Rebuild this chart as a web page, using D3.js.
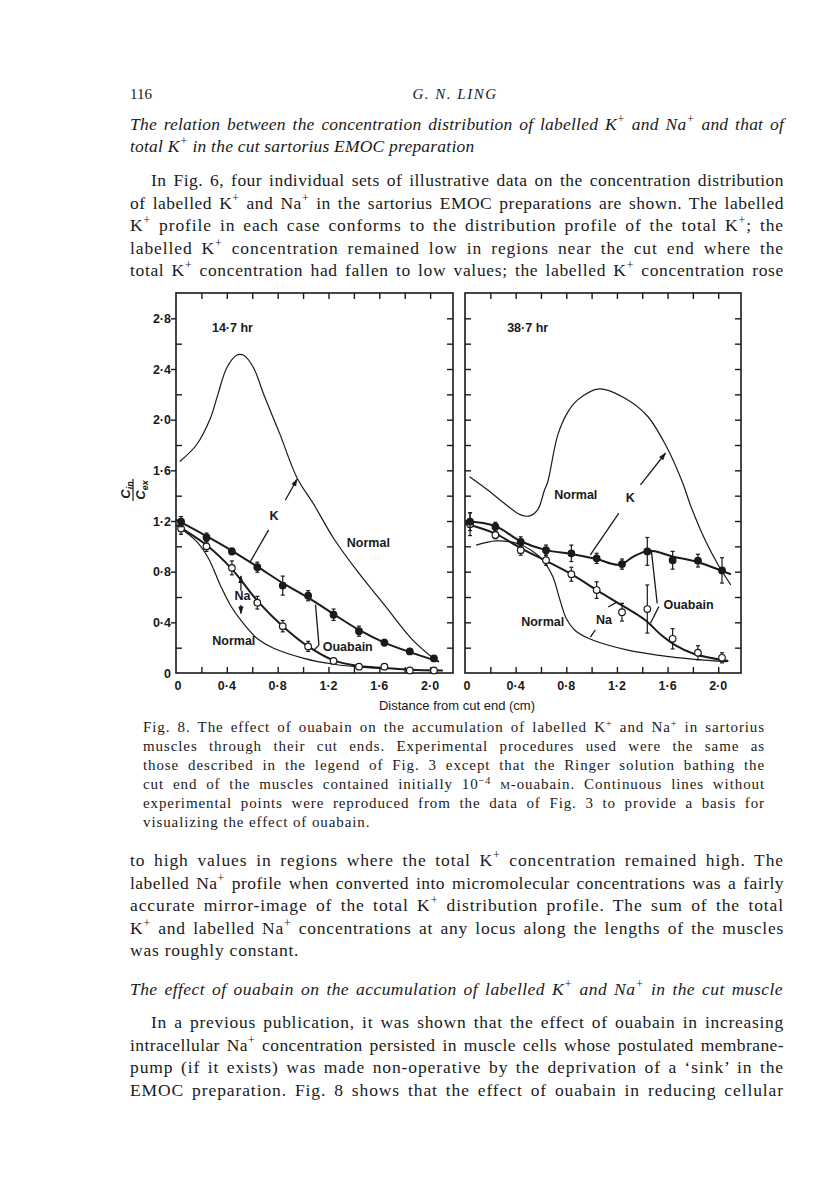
<!DOCTYPE html>
<html>
<head>
<meta charset="utf-8">
<script src="https://cdn.jsdelivr.net/npm/d3@7"></script>
<style>
  body { margin: 0; background: #fff; }
  svg { display: block; }
</style>
</head>
<body>
<svg id="page"></svg>
<script>
// ---- values (C_in / C_ex against distance from cut end, cm) ----
const sliceX = [0.04, 0.24, 0.44, 0.64, 0.84, 1.04, 1.24, 1.44, 1.64, 1.84, 2.03];

// 14.7 hr, ouabain: labelled K (filled) and Na (open)
const kOuabain14 = [1.195, 1.07, 0.96, 0.835, 0.69, 0.61, 0.46, 0.33, 0.24, 0.17, 0.115];
const kOuabain14Err = [0.04, 0.035, 0.025, 0.04, 0.075, 0.04, 0.045, 0.04, 0.025, 0.02, 0.02];
const naOuabain14 = [1.14, 1.0, 0.83, 0.555, 0.37, 0.21, 0.095, 0.05, 0.05, 0.02, 0.02];
const naOuabain14Err = [0.045, 0.04, 0.055, 0.05, 0.045, 0.04, 0.02, 0.01, 0.015, 0, 0];

// 38.7 hr, ouabain
const kOuabain38 = [1.195, 1.155, 1.035, 0.97, 0.945, 0.905, 0.86, 0.96, 0.89, 0.887, 0.81];
const kOuabain38Err = [0.07, 0.035, 0.04, 0.04, 0.065, 0.04, 0.04, 0.11, 0.07, 0.05, 0.1];
const naOuabain38 = [1.175, 1.09, 0.97, 0.89, 0.78, 0.655, 0.48, 0.505, 0.27, 0.16, 0.12];
const naOuabain38Err = [0.09, 0.03, 0.04, 0.04, 0.055, 0.065, 0.07, 0.19, 0.08, 0.055, 0.04];

// drawn curves [distance, C_in/C_ex]
const kFit14 = [[0, 1.21], [0.24, 1.08], [0.44, 0.965], [0.64, 0.84], [0.84, 0.71], [1.04, 0.595],
  [1.24, 0.465], [1.44, 0.34], [1.64, 0.24], [1.84, 0.165], [2.07, 0.09]];
const naFit14 = [[0, 1.17], [0.24, 1.01], [0.44, 0.82], [0.64, 0.57], [0.84, 0.37], [1.04, 0.21],
  [1.24, 0.1], [1.44, 0.055], [1.64, 0.04], [1.84, 0.025], [2.1, 0.02]];
const normalK14 = [[0.03, 1.67], [0.16, 1.8], [0.27, 2.01], [0.33, 2.2], [0.4, 2.41], [0.48, 2.51],
  [0.53, 2.51], [0.61, 2.41], [0.69, 2.2], [0.82, 1.88], [0.953, 1.54], [1.085, 1.33], [1.24, 1.064],
  [1.43, 0.8], [1.64, 0.537], [1.85, 0.274], [2.02, 0.12]];
const normalNa14 = [[0.026, 1.148], [0.163, 1.037], [0.255, 0.906], [0.348, 0.695], [0.427, 0.537],
  [0.519, 0.405], [0.637, 0.274], [0.769, 0.195], [1.006, 0.116], [1.243, 0.069], [1.506, 0.042], [1.65, 0.035]];

const kFit38 = [[0, 1.2], [0.24, 1.16], [0.44, 1.04], [0.64, 0.97], [0.84, 0.94], [1.04, 0.9], [1.22, 0.855],
  [1.34, 0.925], [1.46, 0.965], [1.64, 0.92], [1.84, 0.875], [2.02, 0.81], [2.1, 0.78]];
const naFit38 = [[0, 1.18], [0.24, 1.1], [0.44, 0.985], [0.64, 0.885], [0.84, 0.78], [1.04, 0.655],
  [1.23, 0.54], [1.42, 0.42], [1.55, 0.3], [1.66, 0.22], [1.81, 0.15], [2.08, 0.095]];
const normalK38 = [[0.036, 1.55], [0.18, 1.445], [0.31, 1.34], [0.44, 1.248], [0.51, 1.24], [0.575, 1.29],
  [0.628, 1.445], [0.654, 1.51], [0.733, 1.88], [0.812, 2.06], [0.89, 2.156], [1.062, 2.243], [1.286, 2.156],
  [1.444, 2.025], [1.59, 1.79], [1.716, 1.51], [1.78, 1.327], [1.89, 1.064], [2.0, 0.853], [2.1, 0.695]];
const normalNa38 = [[0.088, 1.01], [0.246, 1.043], [0.404, 1.025], [0.523, 0.97], [0.615, 0.89], [0.694, 0.76],
  [0.746, 0.59], [0.8, 0.43], [0.865, 0.34], [0.983, 0.27], [1.286, 0.18], [1.55, 0.137], [1.813, 0.108], [2.07, 0.09]];

// tick values
const xTickValues = [0.2, 0.4, 0.6, 0.8, 1.0, 1.2, 1.4, 1.6, 1.8, 2.0];
const xLabelValues = [0, 0.4, 0.8, 1.2, 1.6, 2.0];
const yMajor = [0, 0.4, 0.8, 1.2, 1.6, 2.0, 2.4, 2.8];
const yMinor = [0.2, 0.6, 1.0, 1.4, 1.8, 2.2, 2.6];
const yAll = [0.2, 0.4, 0.6, 0.8, 1.0, 1.2, 1.4, 1.6, 1.8, 2.0, 2.2, 2.4, 2.6, 2.8];

// annotations: [text, x, y, anchor] and pointer lines [x1, y1, x2, y2, arrow]
const labels14 = [["14·7 hr", 0.283, 2.725, "start"], ["K", 0.772, 1.24, "middle"], ["Normal", 1.514, 1.03, "middle"],
  ["Na", 0.524, 0.614, "middle"], ["Normal", 0.455, 0.253, "middle"], ["Ouabain", 1.155, 0.208, "start"]];
const pointers14 = [[0.585, 0.879, 0.729, 1.13, 0], [0.861, 1.366, 0.953, 1.53, 1], [0.511, 0.65, 0.511, 0.765, 1],
  [0.511, 0.537, 0.511, 0.47, 1], [1.098, 0.54, 1.125, 0.22, 0], [1.085, 0.18, 1.125, 0.22, 0]];
const labels38 = [["38·7 hr", 0.333, 2.725, "start"], ["Normal", 0.875, 1.406, "middle"], ["K", 1.306, 1.382, "middle"],
  ["Ouabain", 1.568, 0.537, "start"], ["Normal", 0.614, 0.41, "middle"], ["Na", 1.097, 0.42, "middle"]];
const pointers38 = [[1.386, 1.485, 1.583, 1.735, 1], [0.99, 0.932, 1.214, 1.261, 0], [1.473, 0.958, 1.518, 0.55, 0],
  [1.465, 0.393, 1.531, 0.524, 0], [1.131, 0.521, 1.203, 0.561, 0], [0.99, 0.284, 1.03, 0.34, 0]];

// page text ({..} superscript, [..] small capitals)
const headingLines = [
  "The relation between the concentration distribution of labelled K{+} and Na{+} and that of",
  "total K{+} in the cut sartorius EMOC preparation"];
const introLines = [
  "In Fig. 6, four individual sets of illustrative data on the concentration distribution",
  "of labelled K{+} and Na{+} in the sartorius EMOC preparations are shown. The labelled",
  "K{+} profile in each case conforms to the distribution profile of the total K{+}; the",
  "labelled K{+} concentration remained low in regions near the cut end where the",
  "total K{+} concentration had fallen to low values; the labelled K{+} concentration rose"];
const captionLines = [
  "Fig. 8. The effect of ouabain on the accumulation of labelled K{+} and Na{+} in sartorius",
  "muscles through their cut ends. Experimental procedures used were the same as",
  "those described in the legend of Fig. 3 except that the Ringer solution bathing the",
  "cut end of the muscles contained initially 10{−4} [m]-ouabain. Continuous lines without",
  "experimental points were reproduced from the data of Fig. 3 to provide a basis for",
  "visualizing the effect of ouabain."];
const afterLines = [
  "to high values in regions where the total K{+} concentration remained high. The",
  "labelled Na{+} profile when converted into micromolecular concentrations was a fairly",
  "accurate mirror-image of the total K{+} distribution profile. The sum of the total",
  "K{+} and labelled Na{+} concentrations at any locus along the lengths of the muscles",
  "was roughly constant."];
const heading2 = "The effect of ouabain on the accumulation of labelled K{+} and Na{+} in the cut muscle";
const para2Lines = [
  "In a previous publication, it was shown that the effect of ouabain in increasing",
  "intracellular Na{+} concentration persisted in muscle cells whose postulated membrane-",
  "pump (if it exists) was made non-operative by the deprivation of a ‘sink’ in the",
  "EMOC preparation. Fig. 8 shows that the effect of ouabain in reducing cellular"];

const serif = "'Liberation Serif', 'Times New Roman', serif";
const sans = "'Liberation Sans', Arial, sans-serif";
const ink = "#1a1a1a";

const svg = d3.select("#page").attr("width", 816).attr("height", 1183);

// arrowhead
svg.append("defs").append("marker")
  .attr("id", "arrow")
  .attr("viewBox", "0 -4 9 8")
  .attr("refX", 8).attr("refY", 0)
  .attr("markerUnits", "userSpaceOnUse")
  .attr("markerWidth", 8).attr("markerHeight", 7)
  .attr("orient", "auto")
  .append("path").attr("d", "M0,-3L9,0L0,3Z").attr("fill", ink);

// ---------- page text ----------
let lastSpacing = 0;
function textLine(s, x, y, opt) {
  const t = svg.append("text")
    .attr("x", x).attr("y", y)
    .attr("font-family", serif)
    .attr("font-size", opt.size)
    .attr("font-style", opt.italic ? "italic" : null)
    .attr("fill", ink)
    .attr("text-anchor", opt.anchor || null);
  s.split(/(\{[^}]*\}|\[[^\]]*\])/).forEach((p) => {
    if (!p) return;
    if (p[0] === "{") {
      t.append("tspan").attr("baseline-shift", "super").attr("font-size", "68%").text(p.slice(1, -1));
    } else if (p[0] === "[") {
      t.append("tspan").style("font-variant", "small-caps").text(p.slice(1, -1));
    } else {
      t.append("tspan").text(p);
    }
  });
  if (opt.width) {
    // widen glyph spacing a little (the original face is wider), then justify with word gaps
    const spaces = (s.match(/ /g) || []).length;
    const len = t.node().getComputedTextLength();
    const chars = t.node().getNumberOfChars();
    const ls = Math.max(0, Math.min(0.9, (opt.width - len - spaces * 2.2) / chars));
    lastSpacing = ls;
    t.attr("letter-spacing", ls);
    if (spaces) t.attr("word-spacing", (opt.width - len - ls * chars) / spaces);
  } else if (opt.follow) {
    t.attr("letter-spacing", lastSpacing);
  }
  return t;
}

textLine("116", 130, 99, { size: 15 });
textLine("G. N. LING", 455, 99, { size: 15, italic: true, anchor: "middle" }).attr("letter-spacing", 1.5);

textLine(headingLines[0], 130, 130, { size: 17.5, italic: true, width: 654 });
textLine(headingLines[1], 130, 152, { size: 17.5, italic: true, follow: true });

introLines.forEach((l, i) => {
  const x = i === 0 ? 151 : 130;
  textLine(l, x, 186 + i * 22.6, { size: 17.5, width: 784 - x });
});

captionLines.forEach((l, i) => {
  const last = i === captionLines.length - 1;
  textLine(l, 143, 731.5 + i * 19, { size: 15, width: last ? null : 622, follow: last });
});

afterLines.forEach((l, i) => {
  const last = i === afterLines.length - 1;
  textLine(l, 130, 866 + i * 22.6, { size: 17.5, width: last ? null : 654, follow: last });
});

textLine(heading2, 130, 995, { size: 17.5, italic: true, width: 653 });

para2Lines.forEach((l, i) => {
  const x = i === 0 ? 151 : 130;
  textLine(l, x, 1028 + i * 22.6, { size: 17.5, width: 784 - x });
});

// ---------- figure ----------
const plotTop = 293, plotBottom = 673;
const y = d3.scaleLinear().domain([0, 3]).range([plotBottom, plotTop]);
const fmt = (v) => (v === 0 ? "0" : d3.format(".1f")(v).replace(".", "·"));

const panels = [
  { x0: 176, x1: 453, labelAxis: true, k: kOuabain14, kErr: kOuabain14Err, na: naOuabain14, naErr: naOuabain14Err,
    kFit: kFit14, naFit: naFit14, normalK: normalK14, normalNa: normalNa14, labels: labels14, pointers: pointers14 },
  { x0: 465, x1: 741, labelAxis: false, k: kOuabain38, kErr: kOuabain38Err, na: naOuabain38, naErr: naOuabain38Err,
    kFit: kFit38, naFit: naFit38, normalK: normalK38, normalNa: normalNa38, labels: labels38, pointers: pointers38 }
];

panels.forEach((p) => {
  const x = d3.scaleLinear().domain([0, 2.18]).range([p.x0, p.x1]);
  const g = svg.append("g");

  // frame
  g.append("rect")
    .attr("x", p.x0).attr("y", plotTop)
    .attr("width", p.x1 - p.x0).attr("height", plotBottom - plotTop)
    .attr("fill", "none").attr("stroke", ink).attr("stroke-width", 1.6);

  // inward ticks on bottom / top / right, and left for the second panel
  const tickStyle = (sel) => {
    sel.select(".domain").remove();
    sel.selectAll("line").attr("stroke", ink).attr("stroke-width", 1.4);
  };
  g.append("g").attr("transform", `translate(0,${plotBottom})`)
    .call(d3.axisBottom(x).tickValues(xTickValues).tickSize(-6).tickFormat("")).call(tickStyle);
  g.append("g").attr("transform", `translate(0,${plotTop})`)
    .call(d3.axisTop(x).tickValues(xTickValues).tickSize(-6).tickFormat("")).call(tickStyle);
  g.append("g").attr("transform", `translate(${p.x1},0)`)
    .call(d3.axisRight(y).tickValues(yAll).tickSize(-6).tickFormat("")).call(tickStyle);

  if (p.labelAxis) {
    g.append("g").attr("transform", `translate(${p.x0},0)`)
      .call(d3.axisLeft(y).tickValues(yMajor.filter((v) => v > 0)).tickSize(5).tickFormat("")).call(tickStyle);
    g.append("g").attr("transform", `translate(${p.x0},0)`)
      .call(d3.axisLeft(y).tickValues(yMinor).tickSize(-6).tickFormat("")).call(tickStyle);
    g.selectAll(".ylab").data(yMajor).enter().append("text")
      .attr("class", "ylab")
      .attr("x", p.x0 - 5).attr("y", (d) => y(d)).attr("dy", "0.36em")
      .attr("text-anchor", "end")
      .attr("font-family", sans).attr("font-size", 12.5).attr("font-weight", "bold").attr("fill", ink)
      .text(fmt);
  } else {
    g.append("g").attr("transform", `translate(${p.x0},0)`)
      .call(d3.axisLeft(y).tickValues(yAll).tickSize(-6).tickFormat("")).call(tickStyle);
  }

  g.selectAll(".xlab").data(xLabelValues).enter().append("text")
    .attr("class", "xlab")
    .attr("x", (d) => x(d) + (d === 0 ? 2 : 0)).attr("y", plotBottom + 17)
    .attr("text-anchor", "middle")
    .attr("font-family", sans).attr("font-size", 12.5).attr("font-weight", "bold").attr("fill", ink)
    .text(fmt);

  // curves
  const line = d3.line().x((d) => x(d[0])).y((d) => y(d[1])).curve(d3.curveCatmullRom.alpha(0.5));
  [[p.normalK, 1.2], [p.normalNa, 1.2], [p.naFit, 2], [p.kFit, 2]].forEach(([d, w]) => {
    g.append("path").datum(d).attr("d", line)
      .attr("fill", "none").attr("stroke", ink).attr("stroke-width", w).attr("stroke-linejoin", "round");
  });

  // error bars and points
  const series = [
    { v: p.na, e: p.naErr, fill: "#fff" },
    { v: p.k, e: p.kErr, fill: ink }
  ];
  series.forEach((s) => {
    const pts = sliceX.map((d, i) => ({ x: d, v: s.v[i], e: s.e[i] }));
    const eb = g.append("g").attr("stroke", ink).attr("stroke-width", 1.2);
    pts.filter((d) => d.e > 0).forEach((d) => {
      eb.append("line").attr("x1", x(d.x)).attr("x2", x(d.x)).attr("y1", y(d.v - d.e)).attr("y2", y(d.v + d.e));
      [d.v - d.e, d.v + d.e].forEach((c) => {
        eb.append("line").attr("x1", x(d.x) - 2).attr("x2", x(d.x) + 2).attr("y1", y(c)).attr("y2", y(c));
      });
    });
    g.selectAll(null).data(pts).enter().append("circle")
      .attr("cx", (d) => x(d.x)).attr("cy", (d) => y(d.v)).attr("r", 3.3)
      .attr("fill", s.fill).attr("stroke", ink).attr("stroke-width", 1.2);
  });

  // annotations
  p.pointers.forEach((d) => {
    g.append("line")
      .attr("x1", x(d[0])).attr("y1", y(d[1])).attr("x2", x(d[2])).attr("y2", y(d[3]))
      .attr("stroke", ink).attr("stroke-width", 1.3)
      .attr("marker-end", d[4] ? "url(#arrow)" : null);
  });
  p.labels.forEach((d) => {
    g.append("text")
      .attr("x", x(d[1])).attr("y", y(d[2])).attr("dy", "0.36em")
      .attr("text-anchor", d[3])
      .attr("font-family", sans).attr("font-size", 12.5).attr("font-weight", "bold").attr("fill", ink)
      .text(d[0]);
  });
});

// axis titles
svg.append("text")
  .attr("x", 457).attr("y", 710)
  .attr("text-anchor", "middle")
  .attr("font-family", sans).attr("font-size", 13).attr("fill", ink)
  .text("Distance from cut end (cm)");

const yTitle = svg.append("g").attr("transform", "translate(133,490) rotate(-90)")
  .attr("font-family", sans).attr("font-size", 13).attr("font-weight", "bold").attr("fill", ink);
const num = yTitle.append("text").attr("x", 0).attr("y", -3).attr("text-anchor", "middle").attr("font-style", "italic");
num.append("tspan").text("C");
num.append("tspan").attr("font-size", 9).attr("dy", 3).text("in");
yTitle.append("line").attr("x1", -11).attr("x2", 11).attr("y1", 0).attr("y2", 0).attr("stroke", ink).attr("stroke-width", 1.2);
const den = yTitle.append("text").attr("x", 0).attr("y", 12).attr("text-anchor", "middle").attr("font-style", "italic");
den.append("tspan").text("C");
den.append("tspan").attr("font-size", 9).attr("dy", 3).text("ex");
</script>
</body>
</html>
